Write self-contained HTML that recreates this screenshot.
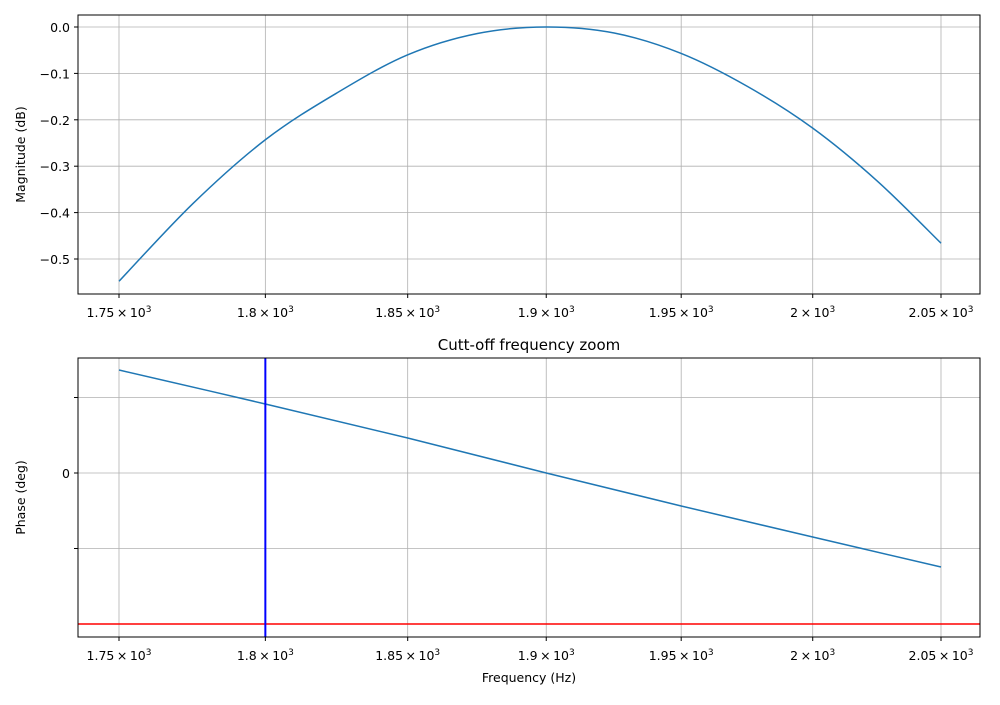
<!DOCTYPE html>
<html><head><meta charset="utf-8"><style>
body{margin:0;background:#fff;}
svg text{font-family:"DejaVu Sans","Liberation Sans",sans-serif;font-size:12.5px;fill:#000;}
</style></head><body>
<svg id="chart" width="1000" height="700" xmlns="http://www.w3.org/2000/svg">
<rect width="1000" height="700" fill="#fff"/>
<g id="top"></g>
<g id="bot"></g>
</svg>
<script>
const freqs=[1750,1775,1800,1825,1850,1875,1900,1925,1950,1975,2000,2025,2050];
const magnitude=[-0.548,-0.381,-0.243,-0.142,-0.060,-0.014,0,-0.013,-0.057,-0.128,-0.218,-0.332,-0.466];
const phaseFreqs=[1750,1800,1850,1900,1950,2000,2050];
const phase=[1.364,0.914,0.464,0,-0.437,-0.848,-1.245];
const xTicks=[1750,1800,1850,1900,1950,2000,2050];
const xTickLabels=["1.75","1.8","1.85","1.9","1.95","2","2.05"];
const magTicks=[0,-0.1,-0.2,-0.3,-0.4,-0.5];
const magTickLabels=["0.0","−0.1","−0.2","−0.3","−0.4","−0.5"];
const phaseTicks=[1,0,-1];
const phaseTickLabels=["","0",""];
const cutoffFreq=1800;
const cutoffPhase=-2;

const NS="http://www.w3.org/2000/svg";
function mk(p,t,a,txt){const e=document.createElementNS(NS,t);for(const k in a)e.setAttribute(k,a[k]);if(txt!==undefined)e.textContent=txt;p.appendChild(e);return e;}
const L=78,R=980;
const lmin=Math.log(1750),lmax=Math.log(2050);
function X(f){return 119+(Math.log(f)-lmin)/(lmax-lmin)*(941-119);}
function smooth(pts){let d='M'+pts[0][0]+','+pts[0][1];
  for(let i=0;i<pts.length-1;i++){const p0=pts[Math.max(0,i-1)],p1=pts[i],p2=pts[i+1],p3=pts[Math.min(pts.length-1,i+2)];
    const c1=[p1[0]+(p2[0]-p0[0])/6,p1[1]+(p2[1]-p0[1])/6],c2=[p2[0]-(p3[0]-p1[0])/6,p2[1]-(p3[1]-p1[1])/6];
    d+=`C${c1[0]},${c1[1]} ${c2[0]},${c2[1]} ${p2[0]},${p2[1]}`;}
  return d;}

function axes(g,top,bot,Y,yt,ytl,ylabel){
  for(let i=0;i<xTicks.length;i++){const x=X(xTicks[i]);
    const gl=mk(g,'line',{x1:x,x2:x,y1:top,y2:bot,stroke:'#b0b0b0','stroke-width':0.8});
    
    mk(g,'line',{x1:x,x2:x,y1:bot,y2:bot+4,stroke:'#000'});
    const t=mk(g,'text',{x:x,y:bot+23,'text-anchor':'middle'});
    
    t.textContent=xTickLabels[i]+'\u2009×\u200910';
    const s=document.createElementNS(NS,'tspan');s.setAttribute('dy','-5');s.setAttribute('font-size','9');s.textContent='3';t.appendChild(s);
  }
  for(let i=0;i<yt.length;i++){const y=Y(yt[i]);
    const gl=mk(g,'line',{x1:L,x2:R,y1:y,y2:y,stroke:'#b0b0b0','stroke-width':0.8});
    
    mk(g,'line',{x1:L-4,x2:L,y1:y,y2:y,stroke:'#000'});
    if(ytl[i]){const t=mk(g,'text',{x:L-8,y:y+5,'text-anchor':'end'},ytl[i]);
      }
  }
  const yl=mk(g,'text',{x:0,y:0,'text-anchor':'middle',transform:`translate(25,${(top+bot)/2}) rotate(-90)`},ylabel);
  
}
function frame(g,top,bot){const r=mk(g,'rect',{x:L,y:top,width:R-L,height:bot-top,fill:'none',stroke:'#000','stroke-width':1});
  }

// top
const gt=document.getElementById('top');
const Yt=v=>27+(-v)*464;
axes(gt,15,294,Yt,magTicks,magTickLabels,'Magnitude (dB)');
const mp=mk(gt,'path',{d:smooth(freqs.map((f,i)=>[X(f),Yt(magnitude[i])])),fill:'none',stroke:'#1f77b4','stroke-width':1.5,'stroke-linejoin':'round'});

frame(gt,15,294);

// bottom
const gb=document.getElementById('bot');
const Yb=v=>473-v*75.5;
axes(gb,358,637,Yb,phaseTicks,phaseTickLabels,'Phase (deg)');
const pp=mk(gb,'path',{d:smooth(phaseFreqs.map((f,i)=>[X(f),Yb(phase[i])])),fill:'none',stroke:'#1f77b4','stroke-width':1.5});

const hl=mk(gb,'line',{x1:L,x2:R,y1:Yb(cutoffPhase),y2:Yb(cutoffPhase),stroke:'#ff0000','stroke-width':1.5});

const vl=mk(gb,'line',{x1:X(cutoffFreq),x2:X(cutoffFreq),y1:358,y2:637,stroke:'#0000ff','stroke-width':2});

frame(gb,358,637);
const ti=mk(gb,'text',{x:529,y:350,'text-anchor':'middle'},'Cutt-off frequency zoom');

ti.style.fontSize='15px';
const xl=mk(gb,'text',{x:529,y:682,'text-anchor':'middle'},'Frequency (Hz)');

</script>
</body></html>
